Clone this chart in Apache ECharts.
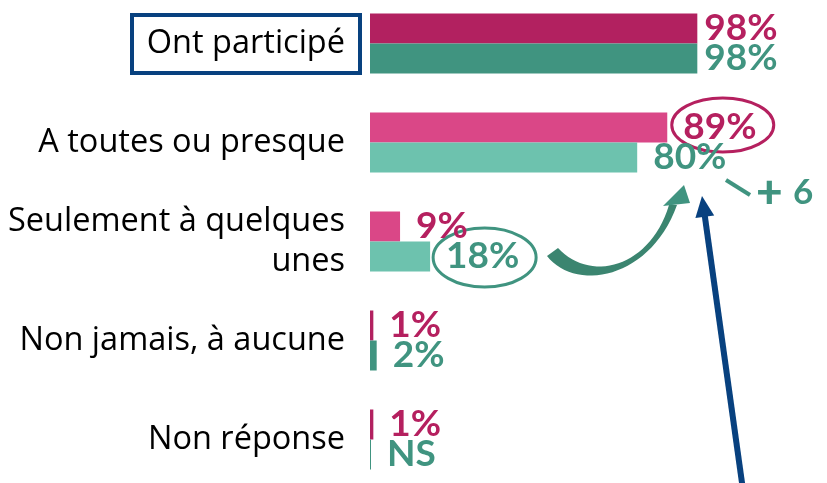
<!DOCTYPE html>
<html>
<head>
<meta charset="utf-8">
<script src="https://cdn.jsdelivr.net/npm/echarts@6/dist/echarts.min.js"></script>
<style>
  html, body { margin: 0; padding: 0; background: #fff; }
  #chart { width: 827px; height: 483px; }
</style>
</head>
<body>
<div id="chart"></div>
<script>
var categories = [
  "Ont participé",
  "A toutes ou presque",
  "Seulement à quelques\nunes",
  "Non jamais, à aucune",
  "Non réponse",
];
var pinkValues = [98, 89, 9, 1, 1];
var tealValues = [98, 80, 18, 2, 0.3];
var pinkLabels = ["98%", "89%", "9%", "1%", "1%"];
var tealLabels = ["98%", "80%", "18%", "2%", "NS"];

var pinkDark = "#B22160";
var pinkLight = "#DA4787";
var tealDark = "#409480";
var tealLight = "#6DC2AE";
var navy = "#08417F";

function buildSeries(values, labels, dark, light, labelColor) {
  return values.map(function (v, i) {
    return {
      value: v,
      itemStyle: { color: i == 1 || i == 2 ? light : dark },
      label: {
        show: true,
        position: "right",
        distance: i == 0 ? 7 : 16,
        formatter: labels[i],
        color: labelColor,
        fontFamily: "Lato",
        fontWeight: "bold",
        fontSize: 37,
      },
    };
  });
}

var chart = echarts.init(document.getElementById("chart"));
chart.setOption({
  animation: false,
  grid: {
    left: 370,
    right: 123,
    top: -6,
    bottom: -6,
    outerBoundsMode: "none",
  },
  xAxis: {
    type: "value",
    min: 0,
    max: 100,
    show: false,
  },
  yAxis: {
    type: "category",
    data: categories,
    inverse: true,
    axisLine: { show: false },
    axisTick: { show: false },
    axisLabel: {
      margin: 25,
      color: "#000",
      fontFamily: "Open Sans",
      fontSize: 32.5,
      lineHeight: 40,
      align: "right",
      padding: [4, 0, 0, 0],
    },
  },
  series: [
    {
      type: "bar",
      barWidth: 30,
      barGap: "0%",
      data: buildSeries(pinkValues, pinkLabels, pinkDark, pinkLight, "#B5205F"),
    },
    {
      type: "bar",
      barWidth: 30,
      data: buildSeries(tealValues, tealLabels, tealDark, tealLight, tealDark),
    },
  ],
});

// cubic bezier sampler for the curved arrow outline
function bez(p0, p1, p2, p3, n) {
  var pts = [];
  for (var k = 0; k <= n; k++) {
    var t = k / n, u = 1 - t;
    pts.push([
      u * u * u * p0[0] + 3 * u * u * t * p1[0] + 3 * u * t * t * p2[0] + t * t * t * p3[0],
      u * u * u * p0[1] + 3 * u * u * t * p1[1] + 3 * u * t * t * p2[1] + t * t * t * p3[1],
    ]);
  }
  return pts;
}

// annotations anchored on the axes
function px(v, c) {
  return chart.convertToPixel({ gridIndex: 0 }, [v, c]);
}
var p89 = px(pinkValues[1], 1);
var p18 = px(tealValues[2], 2);
var p0 = px(0, 0);

var swoosh = bez([547, 256], [575, 292], [650, 280], [677, 205], 30).concat(
  bez([669, 205], [650, 268], [590, 283], [558, 248], 30)
);

chart.setOption({
  graphic: [
    {
      type: "rect",
      shape: { x: 132, y: p0[1] - 28.5, width: 228, height: 58 },
      style: { fill: "none", stroke: navy, lineWidth: 4 },
    },
    {
      type: "ellipse",
      shape: { cx: p89[0] + 55.5, cy: p89[1] - 17.5, rx: 51, ry: 27 },
      style: { fill: "none", stroke: "#B5205F", lineWidth: 3 },
    },
    {
      type: "ellipse",
      shape: { cx: p18[0] + 54.5, cy: p18[1] + 16, rx: 51.5, ry: 29.5 },
      style: { fill: "none", stroke: tealDark, lineWidth: 3 },
    },
    {
      type: "polygon",
      shape: { points: swoosh },
      style: { fill: "#3b8570" },
    },
    {
      type: "polygon",
      shape: { points: [[663, 206], [684, 185], [690, 203]] },
      style: { fill: tealDark },
    },
    {
      type: "line",
      shape: { x1: 726, y1: 180, x2: 750, y2: 195 },
      style: { stroke: tealDark, lineWidth: 4 },
    },
    {
      type: "text",
      x: 756,
      y: 193,
      style: {
        text: "+",
        fill: tealDark,
        fontFamily: "Lato",
        fontWeight: 900,
        fontSize: 46,
        verticalAlign: "middle",
      },
    },
    {
      type: "text",
      x: 793,
      y: 193,
      style: {
        text: "6",
        fill: tealDark,
        fontFamily: "Lato",
        fontWeight: "bold",
        fontSize: 35,
        verticalAlign: "middle",
      },
    },
    {
      type: "line",
      shape: { x1: 743, y1: 490, x2: 704.8, y2: 216 },
      style: { stroke: navy, lineWidth: 6 },
    },
    {
      type: "polygon",
      shape: { points: [[702, 196], [714.2, 215.5], [695.4, 218.1]] },
      style: { fill: navy },
    },
  ],
});

window.addEventListener("resize", () => {
  chart.resize();
});
</script>
</body>
</html>
